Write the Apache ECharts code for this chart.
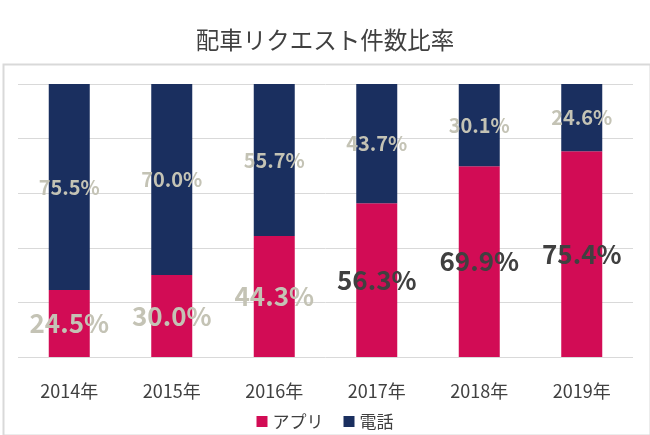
<!DOCTYPE html>
<html>
<head>
<meta charset="utf-8">
<script src="https://cdn.jsdelivr.net/npm/echarts@6/dist/echarts.min.js"></script>
<style>html,body{margin:0;padding:0;background:#fff}#c{width:650px;height:435px}</style>
</head>
<body>
<div id="c"></div>
<script>
var categories = ['2014年','2015年','2016年','2017年','2018年','2019年'];
var appValues = [24.5, 30.0, 44.3, 56.3, 69.9, 75.4];
var phoneValues = [75.5, 70.0, 55.7, 43.7, 30.1, 24.6];
var seriesNames = ['アプリ', '電話'];

var FONT = '"Noto Sans CJK JP", "Noto Sans", sans-serif';
var chart = echarts.init(document.getElementById('c'));
function pct(p){ return p.value.toFixed(1) + '%'; }
chart.setOption({
  animation: false,
  textStyle: { fontFamily: FONT },
  title: {
    text: '配車リクエスト件数比率', left: 'center', top: 23,
    textStyle: { fontFamily: FONT, fontSize: 23.5, fontWeight: 'normal', color: '#404040' }
  },
  graphic: [{
    type: 'rect', left: 1, top: 62, z: -1,
    shape: { width: 647, height: 371 },
    style: { fill: 'none', stroke: '#D9D9D9', lineWidth: 2 }
  }],
  legend: {
    data: seriesNames, top: 408, left: 'center', icon: 'rect',
    itemWidth: 11, itemHeight: 11, itemGap: 20,
    textStyle: { fontFamily: FONT, fontSize: 17, color: '#404040' }
  },
  grid: { left: 18, right: 17, top: 84, bottom: 78 },
  xAxis: {
    type: 'category', data: categories,
    axisLine: { show: false }, axisTick: { show: false },
    axisLabel: { margin: 25, fontFamily: FONT, fontSize: 18, color: '#404040' }
  },
  yAxis: {
    type: 'value', min: 0, max: 100, interval: 20,
    axisLabel: { show: false }, axisLine: { show: false }, axisTick: { show: false },
    splitLine: { lineStyle: { color: '#D9D9D9', width: 1 } }
  },
  series: [{
    name: seriesNames[0], type: 'bar', stack: 't', barWidth: '40%',
    itemStyle: { color: '#D20C55' },
    data: appValues.map(function(v){
      return { value: v, label: { color: v > 50 ? '#404040' : '#C4C3B5' } };
    }),
    label: { show: true, position: 'inside', formatter: pct,
      fontFamily: FONT, fontSize: 26, fontWeight: 'bold' }
  }, {
    name: seriesNames[1], type: 'bar', stack: 't', barWidth: '40%',
    itemStyle: { color: '#1A2F5F' },
    data: phoneValues,
    label: { show: true, position: 'inside', formatter: pct, color: '#C4C3B5',
      fontFamily: FONT, fontSize: 20, fontWeight: 'bold' }
  }]
});
</script>
</body>
</html>
